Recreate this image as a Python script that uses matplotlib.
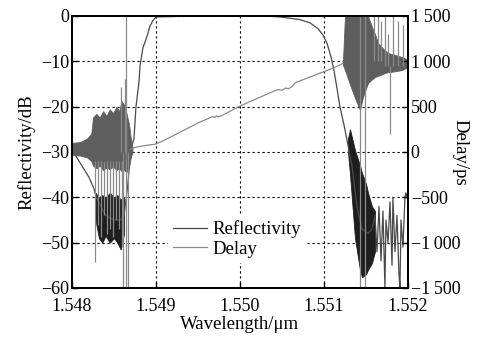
import matplotlib
matplotlib.use('Agg')

import matplotlib.pyplot as plt
from matplotlib.ticker import FuncFormatter, MultipleLocator

plt.rcParams['font.family'] = ['Liberation Serif', 'DejaVu Serif']

# ---------------------------------------------------------------------------
# Reflectivity (left axis, dB) -- main trace
# ---------------------------------------------------------------------------
refl_wl = [1.54800, 1.54805, 1.54810, 1.54815, 1.54820, 1.54826, 1.54829,
           1.54840, 1.54850, 1.54858, 1.54862, 1.54866, 1.54869, 1.54871,
           1.548738, 1.548762, 1.548798, 1.548810, 1.548845, 1.548893,
           1.548929, 1.548964, 1.54900, 1.54950, 1.55030, 1.550476,
           1.550714, 1.550833, 1.550929, 1.550988, 1.551036, 1.551083,
           1.551119, 1.551155, 1.551190, 1.551238, 1.551286, 1.551333,
           1.551393, 1.551452, 1.551524, 1.551571, 1.551607, 1.551631,
           1.551655, 1.551679, 1.551702, 1.551726, 1.551738, 1.551762,
           1.551786, 1.551810, 1.551821, 1.551845, 1.551869, 1.551893,
           1.551905, 1.551917, 1.551940, 1.551964, 1.551976, 1.552000]
refl_db = [-30.0, -31.0, -32.5, -34.0, -35.5, -38.0, -40.0,
           -44.0, -45.0, -45.0, -44.0, -38.0, -32.0, -29.0,
           -27.0, -20.0, -14.5, -11.0, -7.0, -4.5,
           -2.2, -1.0, -0.2, 0.0, 0.0, -0.2,
           -0.8, -1.5, -2.8, -4.2, -6.0, -9.0,
           -12.0, -16.0, -20.0, -24.0, -28.5, -33.0,
           -42.0, -47.0, -48.0, -47.0, -44.0, -52.0,
           -42.0, -54.0, -43.0, -60.0, -45.0, -50.0,
           -41.0, -55.0, -40.0, -52.0, -44.0, -57.0,
           -60.0, -45.0, -51.0, -40.0, -39.0, -41.0]

# dense reflectivity ripple, given as upper / lower envelope (dB)
refl_band_l_wl = [1.54828, 1.54832, 1.54836, 1.54840, 1.54845, 1.54850,
                  1.54854, 1.54858, 1.54862]
refl_band_l_hi = [-39.0, -40.0, -39.5, -40.0, -39.0, -40.0, -39.5, -40.5, -40.0]
refl_band_l_lo = [-45.0, -49.0, -50.0, -48.5, -50.0, -49.0, -50.0, -51.5, -48.0]

refl_band_r_wl = [1.551286, 1.551310, 1.551369, 1.551429, 1.551452,
                  1.551500, 1.551524, 1.551571, 1.551607]
refl_band_r_hi = [-27.0, -25.0, -29.6, -33.0, -34.6, -37.0, -39.0, -42.0, -43.0]
refl_band_r_lo = [-30.0, -35.0, -49.0, -56.0, -57.6, -57.0, -56.0, -54.5, -52.0]

# ---------------------------------------------------------------------------
# Delay (right axis, ps)
# ---------------------------------------------------------------------------
delay_wl = [1.54870, 1.54875, 1.54880, 1.54890, 1.54900, 1.54910, 1.54950,
            1.54966, 1.54968, 1.54970, 1.54972, 1.54974, 1.54976, 1.54978,
            1.55000, 1.55040, 1.55046, 1.55050, 1.55054, 1.55058, 1.55062,
            1.55066, 1.55111, 1.55122]
delay_ps = [30, 50, 60, 75, 88, 130, 320,
            385, 392, 380, 398, 386, 396, 400,
            507, 670, 690, 680, 705, 698, 722,
            765, 926, 975]

delay_band_l_wl = [1.54800, 1.54810, 1.54818, 1.54823, 1.54825, 1.54829,
                   1.54833, 1.54837, 1.54841, 1.54845, 1.54849, 1.54853,
                   1.54856, 1.54859, 1.54862, 1.54865, 1.54868, 1.54870,
                   1.54872]
delay_band_l_hi = [100, 110, 150, 200, 380, 420, 380, 450, 400, 470, 430,
                   500, 450, 560, 520, 420, 300, 150, 60]
delay_band_l_lo = [-30, -40, -60, -100, -150, -180, -150, -200, -170, -190,
                   -160, -200, -180, -210, -200, -220, -150, -60, 0]

delay_band_r_wl = [1.551226, 1.551250, 1.551333, 1.551393, 1.551429,
                   1.551464, 1.551524, 1.551571, 1.551607, 1.551643,
                   1.551726, 1.551762, 1.551845, 1.551929, 1.552000]
delay_band_r_hi = [1000, 1500, 1500, 1500, 1500, 1500, 1500, 1379, 1300,
                   1202, 1120, 1092, 1070, 1048, 1015]
delay_band_r_lo = [960, 904, 684, 540, 463, 607, 761, 800, 827, 840, 871,
                   880, 890, 904, 937]

# isolated delay spikes: position, bottom, top (ps)
spike_wl = [1.548274, 1.548310, 1.548345, 1.548381, 1.548417, 1.548452,
            1.548488, 1.548524, 1.548560, 1.548595,
            1.548583, 1.548631, 1.548643, 1.548607, 1.548667,
            1.551429, 1.551488, 1.551595, 1.551643, 1.551679, 1.551726,
            1.551762, 1.551821, 1.551881, 1.551940, 1.551786]
spike_lo = [-1215, -800, -940, -700, -900, -850,
            -940, -750, -850, -1050,
            0, 0, -1500, -1500, -1500,
            -1500, -1500, 1000, 1000, 1000, 950,
            950, 950, 950, 950, 200]
spike_hi = [-100, -100, -100, -100, -100, -100,
            -100, -100, -100, -100,
            720, 800, 1500, 0, 0,
            1500, 1500, 1500, 1500, 1450, 1500,
            1300, 1500, 1450, 1400, 950]

wl_ticks = [1.548, 1.549, 1.550, 1.551, 1.552]

REFL_C = '#4a4a4a'
REFL_BAND_C = '#1e1e1e'
DELAY_C = '#8a8a8a'
DELAY_BAND_C = '#5e5e5e'

fig = plt.figure(figsize=(4.78, 3.44), dpi=100)
ax = fig.add_axes([0.1506, 0.1628, 0.7029, 0.7907])
ax2 = ax.twinx()

# reflectivity
ax.fill_between(refl_band_l_wl, refl_band_l_lo, refl_band_l_hi,
                color=REFL_BAND_C, lw=0.6)
ax.fill_between(refl_band_r_wl, refl_band_r_lo, refl_band_r_hi,
                color=REFL_BAND_C, lw=0.6)
ln_r, = ax.plot(refl_wl, refl_db, color=REFL_C, lw=0.9, label='Reflectivity')

# delay
ax2.fill_between(delay_band_l_wl, delay_band_l_lo, delay_band_l_hi,
                 color=DELAY_BAND_C, lw=0.6)
ax2.fill_between(delay_band_r_wl, delay_band_r_lo, delay_band_r_hi,
                 color=DELAY_BAND_C, lw=0.6)
ax2.vlines(spike_wl, spike_lo, spike_hi, color=DELAY_C, lw=0.9)
ln_d, = ax2.plot(delay_wl, delay_ps, color=DELAY_C, lw=0.9, label='Delay')

# axes / grid
ax.set_xlim(1.548, 1.552)
ax.set_ylim(-60, 0)
ax2.set_ylim(-1500, 1500)
ax.set_xticks(wl_ticks)
ax.xaxis.set_major_formatter(FuncFormatter(lambda v, p: f'{v:.3f}'))
ax.yaxis.set_major_locator(MultipleLocator(10))
ax2.yaxis.set_major_locator(MultipleLocator(500))


def ps_fmt(v, p):
    s = f'{abs(int(round(v))):,}'.replace(',', '\u2009')
    return ('\u2212' + s) if v < 0 else s


ax2.yaxis.set_major_formatter(FuncFormatter(ps_fmt))

ax.grid(True, color='black', lw=0.8, linestyle=(0, (2, 2.5)))
ax.set_axisbelow(True)

for a in (ax, ax2):
    for sp in a.spines.values():
        sp.set_linewidth(1.4)
    a.tick_params(direction='in', length=4, width=1, labelsize=13, pad=2)
ax.tick_params(axis='x', pad=7)

ax.set_xlabel('Wavelength/\u03bcm', fontsize=13.5, labelpad=1)
ax.set_ylabel('Reflectivity/dB', fontsize=13.5, labelpad=4)
ax2.set_ylabel('Delay/ps', fontsize=13.5, rotation=270, labelpad=6)

leg = ax2.legend([ln_r, ln_d], ['Reflectivity', 'Delay'],
                 loc='upper left', bbox_to_anchor=(0.286, 0.265),
                 borderaxespad=0, frameon=True, fancybox=False,
                 fontsize=13.5, handlelength=1.8, handletextpad=0.3,
                 labelspacing=0.12, borderpad=0.25)
leg.get_frame().set_facecolor('white')
leg.get_frame().set_edgecolor('none')
leg.get_frame().set_alpha(1)

fig.savefig('out.png', dpi=100)
